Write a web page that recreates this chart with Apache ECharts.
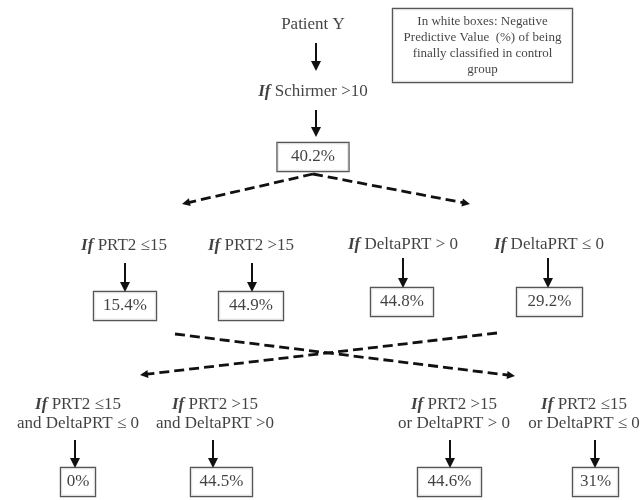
<!DOCTYPE html>
<html><head><meta charset="utf-8">
<script src="https://cdn.jsdelivr.net/npm/echarts@6/dist/echarts.min.js"></script>
<style>html,body{margin:0;padding:0;background:#fff}#c{width:644px;height:500px}</style>
</head><body><div id="c"></div>
<script>
// ---------- data ----------
const rootName = 'Patient Y';
const rootCondition = 'Schirmer >10';
const rootNPV = 40.2;
const splitConditions = ['PRT2 ≤15', 'PRT2 >15', 'DeltaPRT > 0', 'DeltaPRT ≤ 0'];
const splitNPV = [15.4, 44.9, 44.8, 29.2];
const comboFirst = ['PRT2 ≤15', 'PRT2 >15', 'PRT2 >15', 'PRT2 ≤15'];
const comboSecond = ['and DeltaPRT ≤ 0', 'and DeltaPRT >0', 'or DeltaPRT > 0', 'or DeltaPRT ≤ 0'];
const comboNPV = [0, 44.5, 44.6, 31];
const noteLines = ['In white boxes: Negative', 'Predictive Value  (%) of being', 'finally classified in control', 'group'];

// ---------- layout (canvas space 644 x 500) ----------
const layout = {
  root: { x: 313, nameY: 25, condY: 92, boxY: 157, boxW: 73 },
  rootArrows: [[[316, 43], [316, 71]], [[316, 110], [316, 137]]],
  split: {
    textX: [124, 251, 403, 549], textY: [246, 246, 245, 245],
    boxX: [125, 251, 402, 549.5], boxY: [306, 306, 302, 302], boxW: [64, 66, 64, 67],
    arrowX: [125, 252, 403, 548], arrowY0: [263, 263, 258, 258], arrowY1: [292, 292, 288, 288]
  },
  combo: {
    textX: [78, 215, 454, 584], textY: 414,
    boxX: [78, 221.5, 449.5, 595.5], boxY: 482, boxW: [36, 63, 65, 47],
    arrowX: [75, 213, 450, 595], arrowY0: 440, arrowY1: 468
  },
  dashed: [
    [[313, 174], [182, 204]], [[313, 174], [470, 204]],
    [[175, 334], [515, 376]], [[497, 333], [140, 375]]
  ],
  note: { x: 482.5, y: 45.5, w: 181 }
};

const FONT = "'Liberation Serif', 'Times New Roman', serif";
const INK = '#111';
const richStyles = {
  i: { fontFamily: FONT, fontSize: 17, fontWeight: 'bold', fontStyle: 'italic', color: INK, lineHeight: 19 },
  t: { fontFamily: FONT, fontSize: 17, color: INK, lineHeight: 19 }
};
const pct = v => v + '%';

// text points
const textData = [];
textData.push({ value: [layout.root.x, layout.root.nameY], label: { formatter: '{t|' + rootName + '}' } });
textData.push({ value: [layout.root.x, layout.root.condY], label: { formatter: '{i|If}{t| ' + rootCondition + '}' } });
splitConditions.forEach((c, k) => {
  textData.push({ value: [layout.split.textX[k], layout.split.textY[k]], label: { formatter: '{i|If}{t| ' + c + '}' } });
});
comboFirst.forEach((c, k) => {
  textData.push({ value: [layout.combo.textX[k], layout.combo.textY], label: { formatter: '{i|If}{t| ' + c + '}\n{t|' + comboSecond[k] + '}' } });
});

// boxes
const boxLabel = (w) => ({
  show: true, position: 'inside', formatter: '{b}', fontFamily: FONT, fontSize: 17, color: INK,
  lineHeight: 17, width: w - 2, align: 'center', padding: [6, 0, 5, 0],
  backgroundColor: '#fff', borderColor: '#2a2a2a', borderWidth: 1.2
});
const boxData = [];
boxData.push({ name: pct(rootNPV), value: [layout.root.x, layout.root.boxY], label: boxLabel(layout.root.boxW) });
splitNPV.forEach((v, k) => boxData.push({ name: pct(v), value: [layout.split.boxX[k], layout.split.boxY[k]], label: boxLabel(layout.split.boxW[k]) }));
comboNPV.forEach((v, k) => boxData.push({ name: pct(v), value: [layout.combo.boxX[k], layout.combo.boxY], label: boxLabel(layout.combo.boxW[k]) }));

// arrows: shorten so the head's tip lands on the given end point
function arrow(p0, p1, len) {
  const dx = p1[0] - p0[0], dy = p1[1] - p0[1], d = Math.hypot(dx, dy);
  return { coords: [p0, [p1[0] - dx / d * len / 2, p1[1] - dy / d * len / 2]] };
}
const solidArrows = [];
layout.rootArrows.forEach(a => solidArrows.push(arrow(a[0], a[1], 10)));
layout.split.arrowX.forEach((x, k) => solidArrows.push(arrow([x, layout.split.arrowY0[k]], [x, layout.split.arrowY1[k]], 10)));
layout.combo.arrowX.forEach(x => solidArrows.push(arrow([x, layout.combo.arrowY0], [x, layout.combo.arrowY1], 10)));
const dashedArrows = layout.dashed.map(a => arrow(a[0], a[1], 8));

const chart = echarts.init(document.getElementById('c'), null, { renderer: 'canvas' });
chart.setOption({
  animation: false,
  backgroundColor: '#fff',
  grid: { left: 0, right: 0, top: 0, bottom: 0 },
  xAxis: { type: 'value', min: 0, max: 644, show: false },
  yAxis: { type: 'value', min: 0, max: 500, inverse: true, show: false },
  series: [
    {
      type: 'lines', coordinateSystem: 'cartesian2d', silent: true, z: 1,
      symbol: ['none', 'triangle'], symbolSize: [8, 10],
      lineStyle: { color: INK, width: 2, opacity: 1 },
      data: solidArrows
    },
    {
      type: 'lines', coordinateSystem: 'cartesian2d', silent: true, z: 1,
      symbol: ['none', 'triangle'], symbolSize: [7, 8],
      lineStyle: { color: INK, width: 2.8, opacity: 1, type: [10, 5] },
      data: dashedArrows
    },
    {
      type: 'scatter', silent: true, z: 3, symbolSize: 1, itemStyle: { color: 'rgba(0,0,0,0)' },
      label: { show: true, position: 'inside', align: 'center', verticalAlign: 'middle', fontFamily: FONT, fontSize: 17, color: INK, rich: richStyles },
      data: textData
    },
    {
      type: 'scatter', silent: true, z: 3, symbolSize: 1, itemStyle: { color: 'rgba(0,0,0,0)' },
      data: boxData
    },
    {
      type: 'scatter', silent: true, z: 3, symbolSize: 1, itemStyle: { color: 'rgba(0,0,0,0)' },
      label: {
        show: true, position: 'inside', formatter: noteLines.join('\n'), fontFamily: FONT, fontSize: 13,
        lineHeight: 16, color: INK, width: layout.note.w - 2, align: 'center', padding: [7, 0, 2, 0],
        backgroundColor: '#fff', borderColor: '#2a2a2a', borderWidth: 1.2
      },
      data: [{ value: [layout.note.x, layout.note.y] }]
    }
  ]
});
</script></body></html>
